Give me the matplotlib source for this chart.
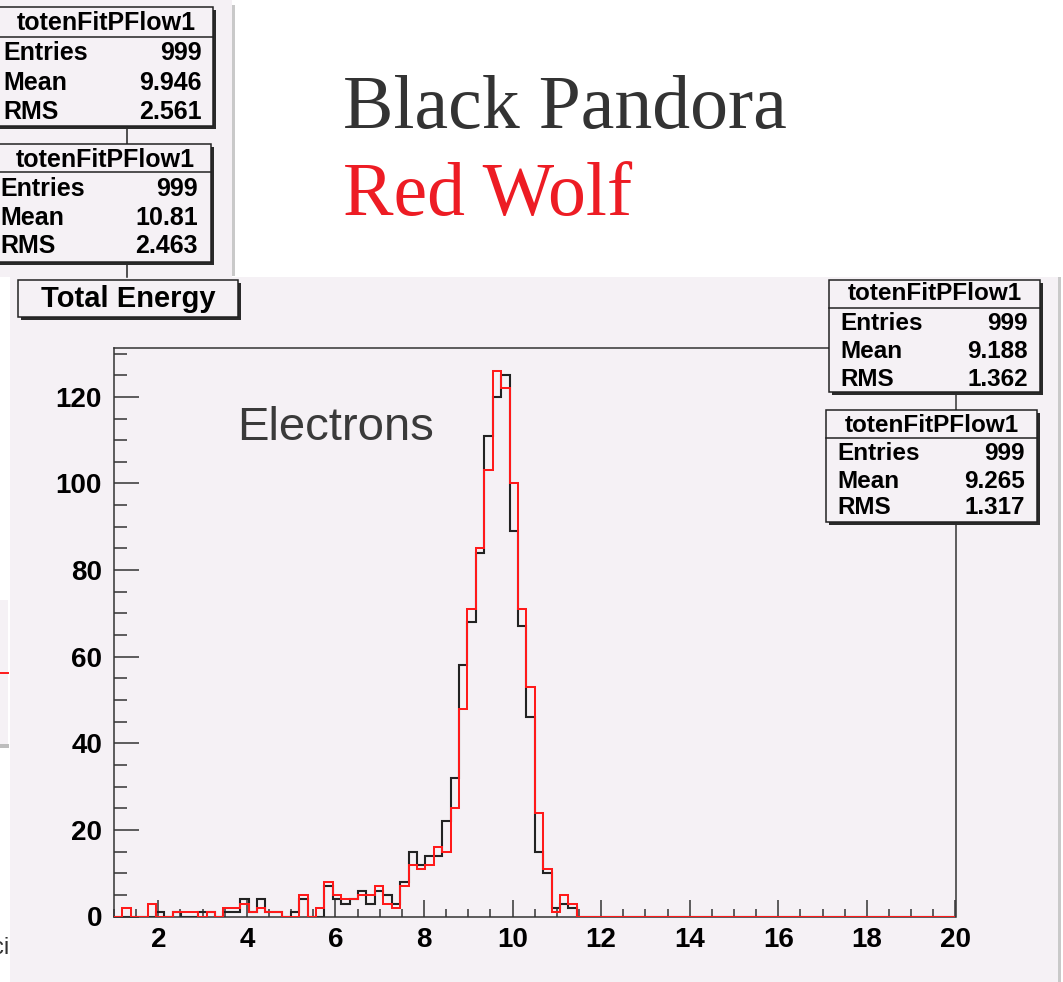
import numpy as np
import matplotlib
matplotlib.use("Agg")
import matplotlib.pyplot as plt
from matplotlib.patches import Rectangle
from matplotlib.ticker import MultipleLocator, FixedLocator

# ---------------- data ----------------
hist_low, hist_high, n_bins = 1.0, 20.0, 100
black_counts = [0, 0, 0, 0, 0, 1, 0, 1, 0, 0,
                1, 1, 0, 1, 1, 4, 1, 4, 1, 1,
                0, 1, 4, 0, 0, 7, 4, 3, 4, 6,
                3, 6, 5, 3, 8, 15, 12, 14, 14, 22,
                32, 58, 68, 84, 111, 120, 125, 89, 67, 46,
                15, 10, 2, 3, 2, 0, 0, 0, 0, 0,
                0, 0, 0, 0, 0, 0, 0, 0, 0, 0,
                0, 0, 0, 0, 0, 0, 0, 0, 0, 0,
                0, 0, 0, 0, 0, 0, 0, 0, 0, 0,
                0, 0, 0, 0, 0, 0, 0, 0, 0, 0]
red_counts = [0, 2, 0, 0, 3, 0, 0, 1, 1, 1,
              0, 1, 0, 2, 2, 3, 1, 2, 1, 1,
              0, 0, 5, 0, 2, 8, 5, 4, 4, 5,
              5, 7, 3, 2, 7, 12, 11, 12, 16, 15,
              25, 48, 71, 85, 103, 126, 122, 100, 71, 53,
              24, 11, 1, 5, 3, 0, 0, 0, 0, 0,
              0, 0, 0, 0, 0, 0, 0, 0, 0, 0,
              0, 0, 0, 0, 0, 0, 0, 0, 0, 0,
              0, 0, 0, 0, 0, 0, 0, 0, 0, 0,
              0, 0, 0, 0, 0, 0, 0, 0, 0, 0]
x_ticks = [2, 4, 6, 8, 10, 12, 14, 16, 18, 20]
y_ticks = [0, 20, 40, 60, 80, 100, 120]
y_max = 131.4

plot_title = "Total Energy"
header_black = "Black Pandora"
header_red = "Red Wolf"
annotation = "Electrons"
stat_name = "totenFitPFlow1"
stat_labels = ["Entries", "Mean", "RMS"]
stats_main_black = ["999", "9.188", "1.362"]
stats_main_red = ["999", "9.265", "1.317"]
stats_prev_black = ["999", "9.946", "2.561"]
stats_prev_red = ["999", "10.81", "2.463"]

# ---------------- style ----------------
W, H = 1063, 982
LAV = "#F5F1F5"
DARK = "#222222"
RED = "#FF1A1A"
SANS = ["Liberation Sans", "DejaVu Sans"]
SERIF = ["Liberation Serif", "DejaVu Serif"]
PX = 72.0 / 100.0  # points per pixel

fig = plt.figure(figsize=(W / 100, H / 100), dpi=100)
fig.patch.set_facecolor("white")

# background layer (pixel coordinates, origin top-left)
bg = fig.add_axes([0, 0, 1, 1], zorder=0)
bg.set_xlim(0, W)
bg.set_ylim(H, 0)
bg.axis("off")

def rect(a, x0, y0, x1, y1, fc, ec="none", lw=0, z=1):
    a.add_patch(Rectangle((x0, y0), x1 - x0, y1 - y0, facecolor=fc,
                          edgecolor=ec, linewidth=lw, zorder=z))

# main pad
rect(bg, 10, 277, 1058, H, LAV)
rect(bg, 1058, 277, 1061, H, "#C9C9C9")
# upper-left pad (previous canvas)
rect(bg, 0, 0, 232, 277, LAV)
rect(bg, 232, 5, 235, 276, "#C9C9C9")
# left edge fragment of another pad
rect(bg, 0, 600, 8, 746, LAV)
bg.plot([0, 8], [673, 673], color=RED, lw=1.4, zorder=2)
rect(bg, 0, 744, 9, 748, "#BDBDBD", z=2)
bg.text(9, 948, "ci", ha="right", va="center", fontsize=17, color="#333333",
        family=SANS, zorder=2)

# ---------------- main axes ----------------
ax = fig.add_axes([114 / W, 1 - 916.5 / H, (955.5 - 114) / W, (916.5 - 347.5) / H],
                  zorder=1)
ax.patch.set_alpha(0)
edges = np.linspace(hist_low, hist_high, n_bins + 1)
ax.stairs(black_counts, edges, color=DARK, lw=1.5, zorder=2)
ax.stairs(red_counts, edges, color=RED, lw=1.45, zorder=3)
ax.set_xlim(hist_low, hist_high)
ax.set_ylim(0, y_max)

for s in ax.spines.values():
    s.set_color("#333333")
    s.set_linewidth(1.1)

ax.xaxis.set_major_locator(FixedLocator(x_ticks))
ax.xaxis.set_minor_locator(MultipleLocator(0.5))
ax.yaxis.set_major_locator(FixedLocator(y_ticks))
ax.yaxis.set_minor_locator(MultipleLocator(5))
ax.tick_params(which="both", direction="in", colors="#333333", width=1.1,
               top=False, right=False)
ax.tick_params(axis="x", which="major", length=17 * PX, pad=7.5)
ax.tick_params(axis="x", which="minor", length=8.5 * PX)
ax.tick_params(axis="y", which="major", length=25 * PX, pad=8.6)
ax.tick_params(axis="y", which="minor", length=12.5 * PX)
for lab in ax.get_xticklabels() + ax.get_yticklabels():
    lab.set_fontsize(20)
    lab.set_fontweight("bold")
    lab.set_family(SANS)
    lab.set_color("black")

# ---------------- overlay ----------------
ov = fig.add_axes([0, 0, 1, 1], zorder=5)
ov.set_xlim(0, W)
ov.set_ylim(H, 0)
ov.axis("off")
ov.patch.set_alpha(0)

def shadow_box(x0, y0, x1, y1, z=3):
    rect(ov, x0 + 3, y0 + 3, x1 + 3, y1 + 3, "#2a2a2a", z=z)
    rect(ov, x0, y0, x1, y1, LAV, ec=DARK, lw=1.1, z=z + 0.1)

def stat_box(x0, y0, x1, y1, sep, title_y, row_ys, lx, rx, values, fs):
    shadow_box(x0, y0, x1, y1)
    ov.plot([x0, x1], [sep, sep], color=DARK, lw=1.1, zorder=3.2)
    ov.text((max(x0, 0) + x1) / 2, title_y, stat_name, ha="center", va="center",
            fontsize=fs, fontweight="bold", family=SANS, color="black", zorder=3.3)
    for lab, val, yy in zip(stat_labels, values, row_ys):
        ov.text(lx, yy, lab, ha="left", va="center", fontsize=fs,
                fontweight="bold", family=SANS, color="black", zorder=3.3)
        ov.text(rx, yy, val, ha="right", va="center", fontsize=fs,
                fontweight="bold", family=SANS, color="black", zorder=3.3)

# connectors of the upper-left (cut) canvas
ov.plot([126.5, 126.5], [126, 145], color=DARK, lw=1.1, zorder=2)
ov.plot([126.5, 126.5], [262, 277], color=DARK, lw=1.1, zorder=2)

stat_box(-6, 7, 213, 126, 37, 23, [53, 83, 112], 3, 202, stats_prev_black, 18)
stat_box(-8, 144, 211, 262, 172, 160, [189, 218, 246], 0, 198, stats_prev_red, 18)

stat_box(829, 280, 1040, 392, 308, 294, [323, 352, 380], 840, 1028,
         stats_main_black, 17.5)
stat_box(826, 410, 1037, 522, 438, 425, [453, 481, 508], 837, 1025,
         stats_main_red, 17.5)

# title box
shadow_box(18, 280, 238, 317)
ov.text(128, 299, plot_title, ha="center", va="center", fontsize=21,
        fontweight="bold", family=SANS, color="black", zorder=3.3)

# annotation
ov.text(237, 428, annotation, ha="left", va="center", fontsize=34,
        family=SANS, color="#3a3a3a", zorder=3.3)

# headers
ov.text(343, 128, header_black, ha="left", va="baseline", fontsize=54.5,
        family=SERIF, color="#333333", zorder=3.3)
ov.text(343, 215, header_red, ha="left", va="baseline", fontsize=54.5,
        family=SERIF, color="#ED1C24", zorder=3.3)

fig.savefig("out.png", dpi=100, facecolor="white")
